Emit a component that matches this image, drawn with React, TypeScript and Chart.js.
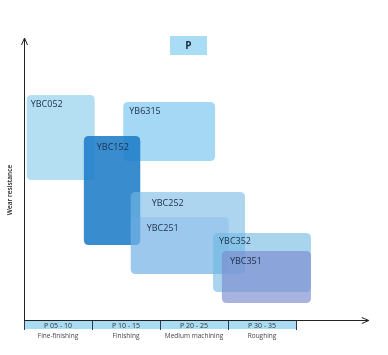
import React, { useEffect, useRef } from "react";
import { Chart, registerables } from "chart.js";
Chart.register(...registerables);

// Grades (boxes): x in machining-range units (0..4), y in wear resistance units (0..100)
const grades = ["YBC052", "YB6315", "YBC152", "YBC252", "YBC251", "YBC352", "YBC351"];
const xStart = [0.04, 1.46, 0.88, 1.57, 1.57, 2.78, 2.91];
const xEnd = [1.04, 2.81, 1.71, 3.25, 3.01, 4.22, 4.22];
const yLow = [50, 56.8, 26.8, 16.4, 16.4, 10, 6.1];
const yHigh = [80.4, 77.9, 65.7, 45.7, 36.8, 31.1, 24.6];

const rangeLabels = ["P 05 - 10", "P 10 - 15", "P 20 - 25", "P 30 - 35"];
const operations = ["Fine-finishing", "Finishing", "Medium machining", "Roughing"];
const titleText = "P";
const yTitle = "Wear resistance";

// styles
const boxColors = [
  "rgba(140,205,235,0.65)",
  "rgba(125,200,240,0.7)",
  "rgba(30,125,200,0.88)",
  "rgba(120,185,230,0.6)",
  "rgba(110,170,225,0.3)",
  "rgba(110,185,225,0.6)",
  "rgba(125,140,208,0.66)",
];
const labelOffsets = [
  [4, 10],
  [6, 10],
  [13, 11],
  [21, 11],
  [16, 11],
  [6, 9],
  [8, 10],
];
const FONT = "'Open Sans', 'Noto Sans', sans-serif";

function roundRect(ctx: CanvasRenderingContext2D, x: number, y: number, w: number, h: number, r: number) {
  ctx.beginPath();
  ctx.moveTo(x + r, y);
  ctx.lineTo(x + w - r, y);
  ctx.quadraticCurveTo(x + w, y, x + w, y + r);
  ctx.lineTo(x + w, y + h - r);
  ctx.quadraticCurveTo(x + w, y + h, x + w - r, y + h);
  ctx.lineTo(x + r, y + h);
  ctx.quadraticCurveTo(x, y + h, x, y + h - r);
  ctx.lineTo(x, y + r);
  ctx.quadraticCurveTo(x, y, x + r, y);
  ctx.closePath();
}

const drawPlugin = {
  id: "gradeBoxes",
  afterDatasetsDraw(chart: any) {
    const ctx: CanvasRenderingContext2D = chart.ctx;
    const xs = chart.scales.x;
    const ys = chart.scales.y;
    ctx.save();

    // boxes
    grades.forEach((g, i) => {
      const x0 = xs.getPixelForValue(xStart[i]);
      const x1 = xs.getPixelForValue(xEnd[i]);
      const y0 = ys.getPixelForValue(yHigh[i]);
      const y1 = ys.getPixelForValue(yLow[i]);
      roundRect(ctx, x0, y0, x1 - x0, y1 - y0, 5);
      ctx.fillStyle = boxColors[i];
      ctx.fill();
    });
    // labels
    ctx.font = `9px ${FONT}`;
    ctx.fillStyle = "#1f2f4a";
    ctx.textBaseline = "middle";
    ctx.textAlign = "left";
    grades.forEach((g, i) => {
      const x0 = xs.getPixelForValue(xStart[i]);
      const y0 = ys.getPixelForValue(yHigh[i]);
      ctx.fillText(g, x0 + labelOffsets[i][0], y0 + labelOffsets[i][1]);
    });

    // axes
    const ax0 = xs.getPixelForValue(0);
    const ay0 = ys.getPixelForValue(0);
    const axTop = ys.getPixelForValue(ys.max) - 2;
    const axRight = xs.getPixelForValue(xs.max) - 2;
    ctx.strokeStyle = "#222";
    ctx.lineWidth = 1;
    ctx.beginPath();
    ctx.moveTo(ax0 + 0.5, ay0 + 0.5);
    ctx.lineTo(ax0 + 0.5, axTop);
    ctx.moveTo(ax0, ay0 + 0.5);
    ctx.lineTo(axRight, ay0 + 0.5);
    ctx.stroke();
    // arrows
    ctx.beginPath();
    ctx.moveTo(ax0 + 0.5 - 3, axTop + 7);
    ctx.lineTo(ax0 + 0.5, axTop);
    ctx.lineTo(ax0 + 0.5 + 3, axTop + 7);
    ctx.moveTo(axRight - 7, ay0 + 0.5 - 3);
    ctx.lineTo(axRight, ay0 + 0.5);
    ctx.lineTo(axRight - 7, ay0 + 0.5 + 3);
    ctx.stroke();

    // category band
    const bandTop = ay0 + 1;
    const bandH = 8;
    const bx0 = xs.getPixelForValue(0);
    const bx1 = xs.getPixelForValue(rangeLabels.length);
    ctx.fillStyle = "#a9dbf3";
    ctx.fillRect(bx0, bandTop, bx1 - bx0, bandH);
    ctx.strokeStyle = "#2a3a50";
    ctx.lineWidth = 1;
    for (let i = 0; i <= rangeLabels.length; i++) {
      const px = Math.round(xs.getPixelForValue(i)) + 0.5;
      ctx.beginPath();
      ctx.moveTo(px, bandTop);
      ctx.lineTo(px, bandTop + bandH + 1);
      ctx.stroke();
    }
    ctx.textAlign = "center";
    ctx.textBaseline = "middle";
    rangeLabels.forEach((l, i) => {
      const cx = xs.getPixelForValue(i + 0.5);
      ctx.font = `7px ${FONT}`;
      ctx.fillStyle = "#333";
      ctx.fillText(l, cx, bandTop + bandH / 2 + 0.5);
      ctx.font = `6.5px ${FONT}`;
      ctx.fillStyle = "#444";
      ctx.fillText(operations[i], cx, bandTop + bandH + 7);
    });

    // title box "P"
    ctx.fillStyle = "#a9dcf5";
    ctx.fillRect(170, 36, 37, 19);
    ctx.fillStyle = "#1a2a40";
    ctx.font = `bold 10px ${FONT}`;
    ctx.fillText(titleText, 188.5, 46);

    // y title
    ctx.save();
    ctx.translate(10, 190);
    ctx.rotate(-Math.PI / 2);
    ctx.font = `600 6.5px ${FONT}`;
    ctx.fillStyle = "#222";
    ctx.fillText(yTitle, 0, 0);
    ctx.restore();

    ctx.restore();
  },
};

export default function App() {
  const ref = useRef<HTMLCanvasElement>(null);
  useEffect(() => {
    document.body.style.margin = "0";
    const chart = new Chart(ref.current!, {
      type: "scatter",
      data: {
        datasets: grades.map((g, i) => ({
          label: g,
          data: [
            { x: xStart[i], y: yLow[i] },
            { x: xEnd[i], y: yHigh[i] },
          ],
          pointRadius: 0,
          showLine: false,
        })),
      },
      options: {
        animation: false,
        responsive: false,
        layout: { padding: { left: 24, top: 40, right: 17.2, bottom: 35 } },
        scales: {
          x: { type: "linear", min: 0, max: 5.1, display: false },
          y: { type: "linear", min: 0, max: 100, display: false },
        },
        plugins: { legend: { display: false }, tooltip: { enabled: false } },
      },
      plugins: [drawPlugin],
    });
    return () => chart.destroy();
  }, []);
  return (
    <div style={{ width: 388, height: 355 }}>
      <canvas ref={ref} width={388} height={355} />
    </div>
  );
}
